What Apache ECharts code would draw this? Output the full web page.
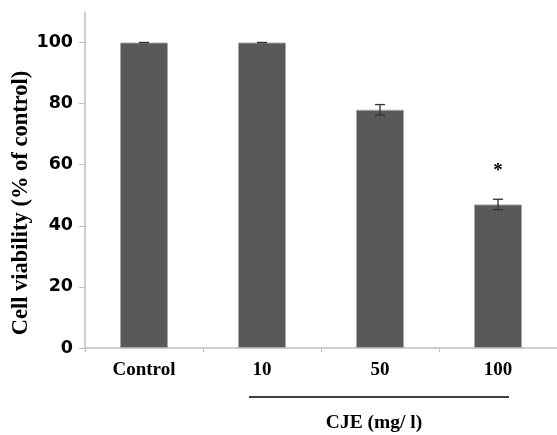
<!DOCTYPE html>
<html><head><meta charset="utf-8">
<script src="https://cdn.jsdelivr.net/npm/echarts@6/dist/echarts.min.js"></script>
<style>html,body{margin:0;padding:0;background:#fff}#c{width:557px;height:435px}</style>
</head><body><div id="c"></div>
<script>
const categories = ['Control', '10', '50', '100'];
const viability = [100, 100, 78, 47];
const errors = [0, 0, 1.7, 1.7];
const sigMarks = ['', '', '', '*'];
const yTicks = [0, 20, 40, 60, 80, 100];
const yAxisTitle = 'Cell viability (% of control)';
const groupTitle = 'CJE (mg/ l)';

const chart = echarts.init(document.getElementById('c'), null, {renderer: 'canvas'});
const serif = '"Liberation Serif", "Times New Roman", serif';
const sans = '"DejaVu Sans", Verdana, sans-serif';

chart.setOption({
  animation: false,
  grid: {left: 85, right: 0, top: 12, bottom: 87},
  xAxis: {
    type: 'category', data: categories,
    axisLine: {lineStyle: {color: '#bfbfbf', width: 1.5}},
    axisTick: {show: true, length: 4, lineStyle: {color: '#bfbfbf'}},
    axisLabel: {color: '#000', fontFamily: serif, fontWeight: 'bold', fontSize: 19, margin: 13}
  },
  yAxis: {
    type: 'value', min: 0, max: 110, interval: 20,
    splitLine: {show: false},
    axisLine: {show: true, lineStyle: {color: '#bfbfbf', width: 1.5}},
    axisTick: {show: true, length: 6, lineStyle: {color: '#bfbfbf'}, customValues: yTicks},
    axisLabel: {color: '#000', fontFamily: sans, fontWeight: 'bold', fontSize: 17.5, margin: 12, customValues: yTicks}
  },
  graphic: [
    {type: 'text', x: 21, y: 203, rotation: Math.PI / 2,
     style: {text: yAxisTitle, fill: '#000', font: 'bold 22.5px ' + serif, align: 'center', verticalAlign: 'middle'}},
    {type: 'line', shape: {x1: 249, y1: 397, x2: 509, y2: 397}, style: {stroke: '#000', lineWidth: 1.5}},
    {type: 'text', x: 374, y: 423,
     style: {text: groupTitle, fill: '#000', font: 'bold 19.5px ' + serif, align: 'center', verticalAlign: 'middle'}}
  ],
  series: [
    {
      type: 'bar', data: viability, barWidth: 48,
      itemStyle: {color: '#595959', borderColor: '#a6a6a6', borderWidth: 1}
    },
    {
      type: 'custom',
      data: categories.map((c, i) => [i, viability[i], errors[i]]),
      renderItem: function (params, api) {
        const i = api.value(0), v = api.value(1), e = api.value(2);
        const top = api.coord([i, v + e]);
        const bot = api.coord([i, v - e]);
        const hw = 5;
        const st = {stroke: '#303030', lineWidth: 1.3};
        return {type: 'group', children: [
          {type: 'line', shape: {x1: top[0], y1: top[1], x2: bot[0], y2: bot[1]}, style: st},
          {type: 'line', shape: {x1: top[0] - hw, y1: top[1], x2: top[0] + hw, y2: top[1]}, style: st},
          {type: 'line', shape: {x1: bot[0] - hw, y1: bot[1], x2: bot[0] + hw, y2: bot[1]}, style: st}
        ]};
      },
      z: 5
    },
    {
      type: 'custom',
      data: categories.map((c, i) => [i, viability[i] + errors[i]]),
      renderItem: function (params, api) {
        const i = api.value(0);
        const mark = sigMarks[params.dataIndex];
        if (!mark) return null;
        const p = api.coord([i, api.value(1)]);
        return {type: 'text', x: p[0], y: p[1] - 28,
          style: {text: mark, fill: '#000', font: 'bold 19px ' + serif, align: 'center', verticalAlign: 'middle'}};
      },
      z: 6
    }
  ]
});
</script>
</body></html>
